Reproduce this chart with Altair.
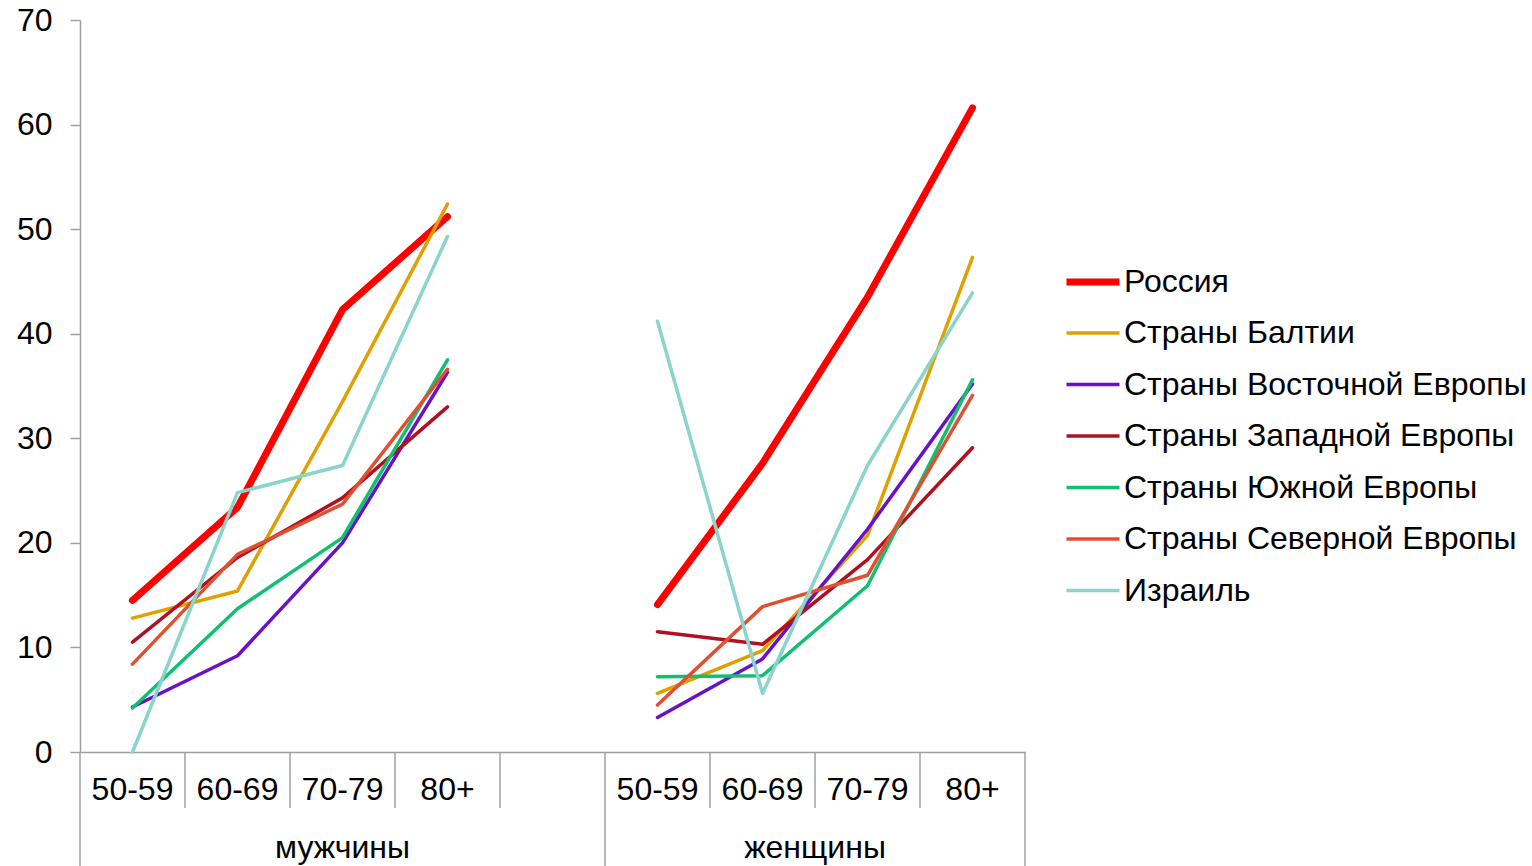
import altair as alt
import pandas as pd

ages = ["50-59", "60-69", "70-79", "80+"]
sexes = ["мужчины", "женщины"]
series = ["Россия", "Страны Балтии", "Страны Восточной Европы",
          "Страны Западной Европы", "Страны Южной Европы",
          "Страны Северной Европы", "Израиль"]
colors = ["#FF0000", "#DFA000", "#6A10C8", "#B01020", "#10C070", "#E05030", "#8AD4CC"]
widths = [7, 3.5, 3.5, 3.5, 3.5, 3.5, 3.5]

# values: men 50-59..80+, women 50-59..80+
russia   = [14.5, 23.4, 42.3, 51.2, 14.1, 27.6, 43.5, 61.6]
baltics  = [12.8, 15.4, 33.5, 52.4, 5.6, 9.7, 20.7, 47.3]
eastern  = [4.3, 9.2, 20.0, 36.3, 3.3, 8.9, 21.3, 35.2]
western  = [10.5, 18.6, 24.3, 33.0, 11.5, 10.3, 18.4, 29.1]
southern = [4.2, 13.7, 20.5, 37.5, 7.2, 7.3, 15.9, 35.6]
northern = [8.4, 18.9, 23.7, 36.6, 4.5, 13.9, 16.9, 34.1]
israel   = [0.0, 24.8, 27.4, 49.3, 41.2, 5.6, 27.4, 43.9]
values = [russia, baltics, eastern, western, southern, northern, israel]

# slot layout: 4 age bands per sex, one empty band between the groups
n_age = len(ages)
def slot(si, ai):
    return si * (n_age + 1) + ai

rows = []
for k, name in enumerate(series):
    for si, sx in enumerate(sexes):
        for ai, ag in enumerate(ages):
            rows.append({"series": name, "order": k, "sex": sx, "age": ag,
                         "x": slot(si, ai) + 0.5,
                         "value": values[k][si * n_age + ai]})
df = pd.DataFrame(rows)

n_slots = len(sexes) * (n_age + 1) - 1
lab_rows = []
for si, sx in enumerate(sexes):
    for ai, ag in enumerate(ages):
        lab_rows.append({"x": slot(si, ai) + 0.5, "text": ag})
labels_df = pd.DataFrame(lab_rows)
group_df = pd.DataFrame([{"x": slot(si, 0) + (n_age + (1 if si < len(sexes) - 1 else 0)) / 2,
                          "text": sx} for si, sx in enumerate(sexes)])
long_b = [slot(si, 0) for si in range(len(sexes))] + [n_slots]
short_b = [b for b in range(n_slots + 1) if b not in long_b]
short_df = pd.DataFrame({"x": short_b})
long_df = pd.DataFrame({"x": long_b})

FONT = "Liberation Sans"
FS = 32
GRAY = "#A0A0A0"
xscale = alt.Scale(domain=[0, n_slots], nice=False, zero=False)
yscale = alt.Scale(domain=[0, 70], nice=False)

legend_cfg = dict(title=None, orient="none", legendX=983, legendY=232,
                  symbolType="stroke", symbolSize=2809,
                  rowPadding=6.5, labelOffset=1, padding=0,
                  labelFontSize=FS, labelFont=FONT,
                  labelColor="black", labelLimit=700)

lines = alt.Chart(df).mark_line(strokeCap="round", strokeJoin="round").encode(
    x=alt.X("x:Q", scale=xscale,
            axis=alt.Axis(labels=False, ticks=False, grid=False, title=None,
                          domainColor=GRAY, domainWidth=1.5)),
    y=alt.Y("value:Q", scale=yscale,
            axis=alt.Axis(values=list(range(0, 71, 10)), grid=False, title=None,
                          domainColor=GRAY, domainWidth=1.5, tickColor=GRAY,
                          tickWidth=1.5, tickSize=10, labelPadding=18,
                          labelFontSize=FS, labelFont=FONT, labelColor="black")),
    color=alt.Color("series:N", scale=alt.Scale(domain=series, range=colors),
                    legend=alt.Legend(**legend_cfg)),
    strokeWidth=alt.StrokeWidth("series:N",
                                scale=alt.Scale(type="ordinal", domain=series, range=widths),
                                legend=alt.Legend(**legend_cfg)),
    detail="sex:N",
    order="order:Q",
)

short_rules = alt.Chart(short_df).mark_rule(color=GRAY, strokeWidth=1.5).encode(
    x=alt.X("x:Q", scale=xscale), y=alt.value(732), y2=alt.value(788))
long_rules = alt.Chart(long_df).mark_rule(color=GRAY, strokeWidth=1.5).encode(
    x=alt.X("x:Q", scale=xscale), y=alt.value(732), y2=alt.value(846))

age_text = alt.Chart(labels_df).mark_text(fontSize=FS, font=FONT, color="black",
                                          baseline="middle", align="center").encode(
    x=alt.X("x:Q", scale=xscale), y=alt.value(770), text="text:N")
group_text = alt.Chart(group_df).mark_text(fontSize=FS, font=FONT, color="black",
                                           baseline="middle", align="center").encode(
    x=alt.X("x:Q", scale=xscale), y=alt.value(828), text="text:N")

chart = alt.layer(short_rules, long_rules, lines, age_text, group_text).properties(
    width=945, height=732,
    padding={"left": 80, "top": 20, "right": 507, "bottom": 114},
    autosize="none", background="white",
).configure_view(stroke=None)

chart.save("out.html", embed_options={"renderer": "svg", "actions": False})
